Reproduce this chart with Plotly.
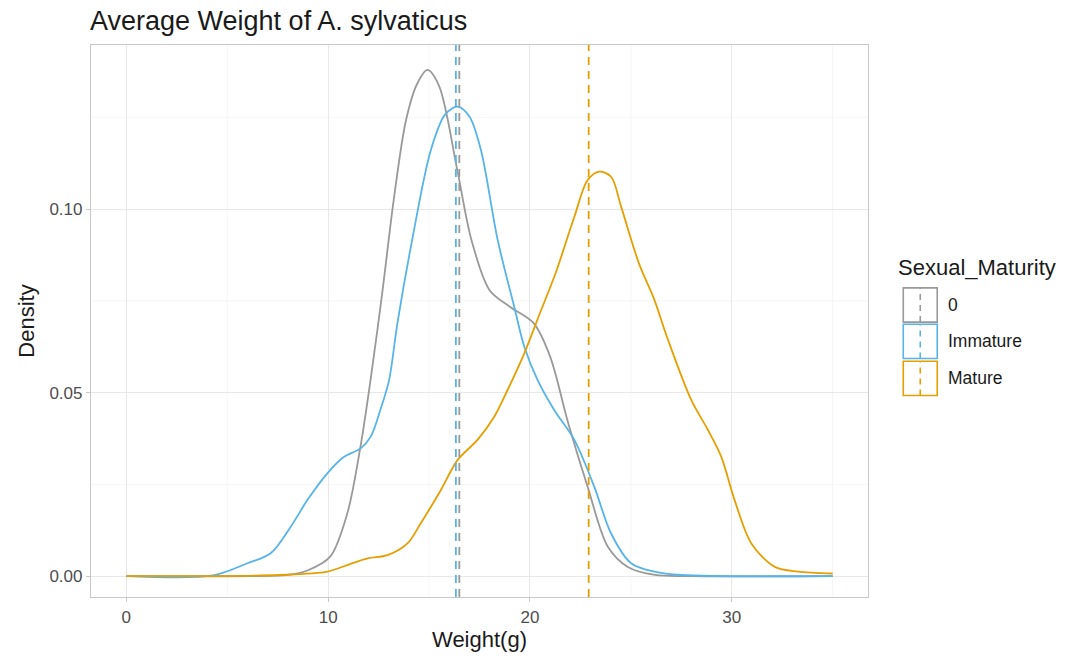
import plotly.graph_objects as go

# ---- data ----
groups = ["0", "Immature", "Mature"]
colors = ["#999999", "#56B4E9", "#E69F00"]

grey_x = [0, 6, 8, 9, 10.1, 10.95, 11.6, 12.1, 12.7, 13.25, 13.85, 14.4, 14.92, 15.5, 16.4, 17.1, 18.0, 19.0, 20.2, 21.0, 21.9, 22.86, 23.86, 24.85, 26.2, 28, 35]
grey_d = [0, 0, 0.0003, 0.0016, 0.0053, 0.0171, 0.0352, 0.0534, 0.078, 0.1025, 0.124, 0.134, 0.1379, 0.1335, 0.1106, 0.0916, 0.0779, 0.0734, 0.0688, 0.0598, 0.0416, 0.0243, 0.008, 0.0025, 0.0003, 0, 0]

blue_x = [0, 4.3, 6.0, 7.15, 8.14, 8.97, 9.96, 10.79, 11.61, 12.11, 12.6, 13.02, 13.43, 14.15, 15.09, 15.8, 16.41, 17.0, 17.57, 18.4, 19.22, 19.72, 20.38, 21.21, 22.2, 23.19, 24.02, 25.01, 26.17, 27.5, 35]
blue_d = [0, 0.0002, 0.0035, 0.0062, 0.0134, 0.0207, 0.028, 0.0325, 0.0348, 0.038, 0.0455, 0.0534, 0.0688, 0.0912, 0.1161, 0.1258, 0.1279, 0.1252, 0.1161, 0.0916, 0.0734, 0.0625, 0.0534, 0.0452, 0.0371, 0.0243, 0.0116, 0.0035, 0.0012, 0.0003, 0]

orange_x = [0, 7.6, 9.96, 10.95, 11.95, 12.94, 13.93, 14.59, 15.58, 16.41, 17.4, 18.23, 18.89, 19.72, 20.45, 21.3, 22.2, 22.86, 23.44, 24.02, 24.52, 25.4, 26.17, 26.8, 27.99, 28.82, 29.48, 30.14, 30.97, 32.13, 33.28, 35]
orange_d = [0, 0.0003, 0.0012, 0.003, 0.0048, 0.0057, 0.0089, 0.0144, 0.0234, 0.0316, 0.0371, 0.0434, 0.0507, 0.0607, 0.071, 0.083, 0.0979, 0.1079, 0.1102, 0.1088, 0.1006, 0.0852, 0.0752, 0.065, 0.048, 0.0398, 0.0325, 0.0207, 0.0089, 0.0025, 0.0012, 0.0007]

group_means = [16.5, 16.33, 22.91]

x_ticks = [0, 10, 20, 30]
y_ticks = [0.00, 0.05, 0.10]
y_tick_labels = ["0.00", "0.05", "0.10"]

series_x = [grey_x, blue_x, orange_x]
series_d = [grey_d, blue_d, orange_d]

FONT = "Liberation Sans, Arial, Helvetica, sans-serif"

fig = go.Figure()
for name, col, xs, ds in zip(groups, colors, series_x, series_d):
    fig.add_trace(go.Scatter(x=xs, y=ds, mode="lines", name=name,
                             line=dict(color=col, width=1.8, shape="spline", smoothing=0.9),
                             showlegend=False))

# dashed mean lines
for col, m in zip(colors, group_means):
    fig.add_shape(type="line", xref="x", yref="paper", x0=m, x1=m, y0=0, y1=1,
                  line=dict(color=col, width=1.8, dash="8px,6px"), layer="above")

# minor gridlines
for v in [5, 15, 25, 35]:
    fig.add_shape(type="line", xref="x", yref="paper", x0=v, x1=v, y0=0, y1=1,
                  line=dict(color="#F2F2F2", width=0.8), layer="below")
for v in [0.025, 0.075, 0.125]:
    fig.add_shape(type="line", xref="paper", yref="y", x0=0, x1=1, y0=v, y1=v,
                  line=dict(color="#F2F2F2", width=0.8), layer="below")

# custom legend
fig.add_annotation(xref="paper", yref="paper", x=1.036, y=0.597, xanchor="left", yanchor="middle",
                   text="Sexual_Maturity", showarrow=False, font=dict(size=22, color="#1A1A1A", family=FONT))
key_top = [0.560, 0.494, 0.427]
key_h = 0.062
for i, (name, col) in enumerate(zip(groups, colors)):
    y1 = key_top[i]
    y0 = y1 - key_h
    x0, x1 = 1.0454, 1.0891
    fig.add_shape(type="rect", xref="paper", yref="paper", x0=x0, x1=x1, y0=y0, y1=y1,
                  line=dict(color=col, width=1.6), fillcolor="white")
    xm = (x0 + x1) / 2
    fig.add_shape(type="line", xref="paper", yref="paper", x0=xm, x1=xm, y0=y0, y1=y1,
                  line=dict(color=col, width=1.6, dash="6px,5px"))
    fig.add_annotation(xref="paper", yref="paper", x=1.100, y=(y0 + y1) / 2, xanchor="left", yanchor="middle",
                       text=name, showarrow=False, font=dict(size=17.5, color="#1A1A1A", family=FONT))

fig.update_layout(
    width=1069, height=659,
    margin=dict(l=91, r=201, t=45, b=62),
    paper_bgcolor="white", plot_bgcolor="white",
    font=dict(family=FONT, color="#1A1A1A"),
    title=dict(text="Average Weight of A. sylvaticus", x=90/1069, xanchor="left", y=1-21/659, yanchor="middle",
               font=dict(size=27, color="#1A1A1A", family=FONT)),
    showlegend=False,
)
fig.update_xaxes(range=[-1.75, 36.75], tickvals=x_ticks, ticktext=[str(t) for t in x_ticks],
                 showgrid=True, gridcolor="#E8E8E8", gridwidth=1,
                 zeroline=False, showline=True, linecolor="#C8C8C8", linewidth=1.2, mirror=True,
                 ticks="outside", ticklen=4, tickcolor="#C8C8C8", tickwidth=1,
                 tickfont=dict(size=17, color="#4D4D4D", family=FONT),
                 title=dict(text="Weight(g)", font=dict(size=22, color="#1A1A1A", family=FONT), standoff=6))
fig.update_yaxes(range=[-0.0057, 0.1447], tickvals=y_ticks, ticktext=y_tick_labels,
                 showgrid=True, gridcolor="#E8E8E8", gridwidth=1,
                 zeroline=False, showline=True, linecolor="#C8C8C8", linewidth=1.2, mirror=True,
                 ticks="outside", ticklen=4, tickcolor="#C8C8C8", tickwidth=1,
                 tickfont=dict(size=17, color="#4D4D4D", family=FONT),
                 title=dict(text="Density", font=dict(size=22, color="#1A1A1A", family=FONT), standoff=8))

fig.write_html("out.html")
